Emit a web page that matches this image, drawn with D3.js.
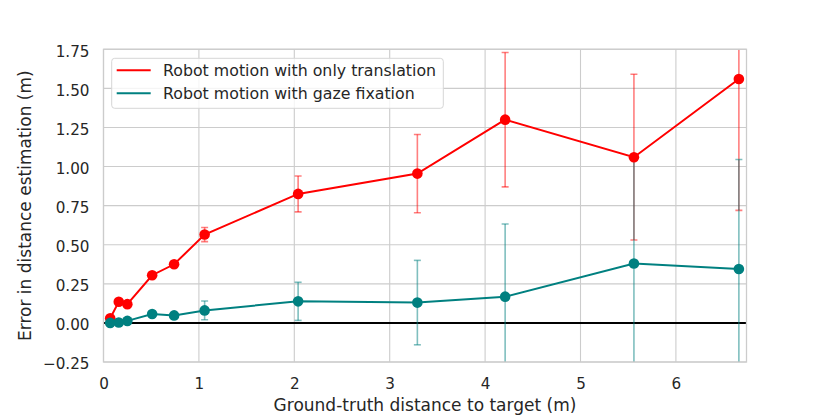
<!DOCTYPE html>
<html><head><meta charset="utf-8">
<script src="https://cdn.jsdelivr.net/npm/d3@7"></script>
<style>body{margin:0;background:#fff}svg{display:block}text{font-family:"DejaVu Sans",sans-serif;fill:#262626}</style>
</head><body><svg id="c" width="830" height="415"></svg>
<script>
const distances = [0.07, 0.16, 0.25, 0.51, 0.74, 1.06, 2.04, 3.29, 4.21, 5.56, 6.66];
const translationMean = [0.03, 0.135, 0.12, 0.305, 0.375, 0.565, 0.825, 0.955, 1.30, 1.06, 1.56];
const translationStd  = [0.0, 0.0, 0.0, 0.0, 0.0, 0.045, 0.115, 0.25, 0.43, 0.53, 0.84];
const gazeMean = [0.0, 0.003, 0.013, 0.057, 0.048, 0.08, 0.138, 0.13, 0.168, 0.38, 0.345];
const gazeStd  = [0.0, 0.0, 0.0, 0.0, 0.0, 0.06, 0.122, 0.27, 0.465, 0.66, 0.70];
const xTicks = [0, 1, 2, 3, 4, 5, 6];
const yTicks = [-0.25, 0, 0.25, 0.5, 0.75, 1.0, 1.25, 1.5, 1.75];
const seriesNames = ["Robot motion with only translation", "Robot motion with gaze fixation"];
const seriesColors = ["#ff0000", "#008080"];

const svg = d3.select("#c");
const L = 103.5, R = 746.5, T = 49.3, B = 362;
const x = d3.scaleLinear().domain([0, 6.74]).range([L, R]);
const y = d3.scaleLinear().domain([-0.25, 1.75]).range([B, T]);

svg.append("defs").append("clipPath").attr("id","clip").append("rect")
  .attr("x", L).attr("y", T).attr("width", R-L).attr("height", B-T);

// grid
const g = svg.append("g");
g.selectAll(".gx").data(xTicks).join("line").attr("x1", d=>x(d)).attr("x2", d=>x(d))
  .attr("y1", T).attr("y2", B).attr("stroke", "#cccccc").attr("stroke-width", 1.1);
g.selectAll(".gy").data(yTicks).join("line").attr("y1", d=>y(d)).attr("y2", d=>y(d))
  .attr("x1", L).attr("x2", R).attr("stroke", "#cccccc").attr("stroke-width", 1.1);

// axes via d3
const xAxis = svg.append("g").attr("transform", `translate(0,${B})`)
  .call(d3.axisBottom(x).tickValues(xTicks).tickSize(0).tickPadding(16).tickFormat(d3.format("d")));
const yAxis = svg.append("g").attr("transform", `translate(${L},0)`)
  .call(d3.axisLeft(y).tickValues(yTicks).tickSize(0).tickPadding(14)
    .tickFormat(d => (d < 0 ? "\u2212" : "") + Math.abs(d).toFixed(2)));
[xAxis, yAxis].forEach(a => { a.select(".domain").remove();
  a.selectAll("text").style("font-family", "DejaVu Sans").style("font-size", "15.2px").attr("fill", "#262626"); });
yAxis.selectAll("text").attr("dy", "0.45em");

const plot = svg.append("g").attr("clip-path", "url(#clip)");

// zero line
plot.append("line").attr("x1", L).attr("x2", R).attr("y1", y(0)).attr("y2", y(0))
  .attr("stroke", "#000").attr("stroke-width", 2);

const series = [
  {mean: translationMean, std: translationStd, color: seriesColors[0]},
  {mean: gazeMean, std: gazeStd, color: seriesColors[1]}
];
const line = d3.line().x(d => x(d[0])).y(d => y(d[1]));
series.forEach(s => {
  const pts = distances.map((d, i) => [d, s.mean[i], s.std[i]]);
  const eb = plot.append("g").attr("stroke", s.color).attr("stroke-opacity", 0.5).attr("stroke-width", 1.6);
  pts.filter(p => p[2] > 0).forEach(p => {
    eb.append("line").attr("x1", x(p[0])).attr("x2", x(p[0])).attr("y1", y(p[1]-p[2])).attr("y2", y(p[1]+p[2]));
    [p[1]-p[2], p[1]+p[2]].forEach(v => eb.append("line").attr("x1", x(p[0])-3.5).attr("x2", x(p[0])+3.5)
      .attr("y1", y(v)).attr("y2", y(v)));
  });
});
series.forEach(s => {
  const pts = distances.map((d, i) => [d, s.mean[i]]);
  plot.append("path").datum(pts).attr("d", line).attr("fill", "none").attr("stroke", s.color).attr("stroke-width", 2);
  plot.selectAll(null).data(pts).join("circle").attr("cx", d => x(d[0])).attr("cy", d => y(d[1]))
    .attr("r", 5.3).attr("fill", s.color);
});

// frame
svg.append("rect").attr("x", L).attr("y", T).attr("width", R-L).attr("height", B-T)
  .attr("fill", "none").attr("stroke", "#cccccc").attr("stroke-width", 1.3);

// legend
const lg = svg.append("g");
lg.append("rect").attr("x", 111.7).attr("y", 58.3).attr("width", 331.6).attr("height", 50).attr("rx", 3)
  .attr("fill", "#fff").attr("fill-opacity", 0.8).attr("stroke", "#d6d6d6").attr("stroke-width", 1);
seriesNames.forEach((n, i) => {
  const yy = 70.3 + i * 23;
  lg.append("line").attr("x1", 116.7).attr("x2", 150.7).attr("y1", yy).attr("y2", yy)
    .attr("stroke", seriesColors[i]).attr("stroke-width", 2);
  lg.append("text").attr("x", 163).attr("y", yy + 5.6).style("font-size", "15.8px").text(n);
});

// axis labels
svg.append("text").attr("x", (L+R)/2).attr("y", 411).attr("text-anchor", "middle")
  .style("font-size", "17px").text("Ground-truth distance to target (m)");
svg.append("text").attr("transform", `translate(31,${(T+B)/2}) rotate(-90)`).attr("text-anchor", "middle")
  .style("font-size", "17px").text("Error in distance estimation (m)");
</script></body></html>
